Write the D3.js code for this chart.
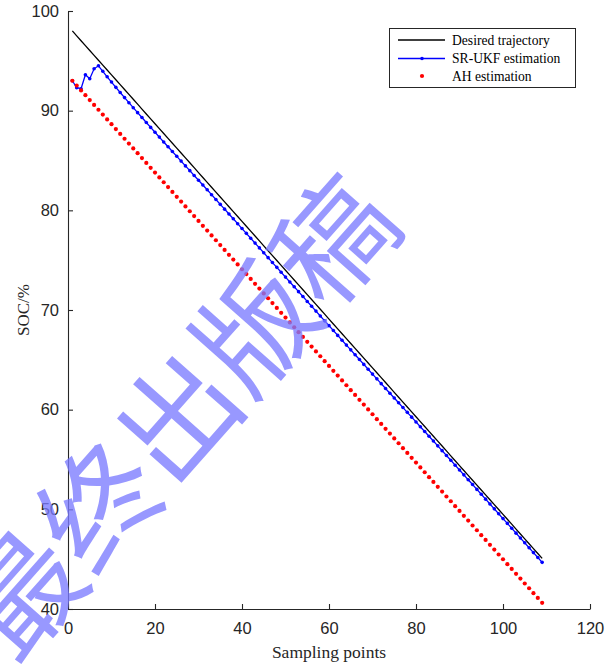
<!DOCTYPE html>
<html>
<head>
<meta charset="utf-8">
<script src="https://cdn.jsdelivr.net/npm/d3@7/dist/d3.min.js"></script>
<style>
  html, body { margin: 0; padding: 0; background: #fff; }
  svg { display: block; }
</style>
</head>
<body>
<svg id="chart" width="616" height="664"></svg>
<script>
// Sampling index 1..109
const samples = d3.range(1, 110);

// Reference SOC (%) along the discharge
const desiredSOC = [
  98.00, 97.51, 97.02, 96.53, 96.04, 95.55, 95.06, 94.57, 94.08, 93.59,
  93.10, 92.61, 92.12, 91.63, 91.14, 90.65, 90.16, 89.67, 89.18, 88.69,
  88.20, 87.71, 87.22, 86.73, 86.24, 85.75, 85.26, 84.77, 84.28, 83.79,
  83.30, 82.81, 82.32, 81.83, 81.34, 80.85, 80.36, 79.87, 79.38, 78.89,
  78.40, 77.91, 77.42, 76.93, 76.44, 75.95, 75.46, 74.97, 74.48, 73.99,
  73.50, 73.01, 72.52, 72.03, 71.54, 71.05, 70.56, 70.07, 69.58, 69.09,
  68.60, 68.11, 67.62, 67.13, 66.64, 66.15, 65.66, 65.17, 64.68, 64.19,
  63.70, 63.21, 62.72, 62.23, 61.74, 61.25, 60.76, 60.27, 59.78, 59.29,
  58.80, 58.31, 57.82, 57.33, 56.84, 56.35, 55.86, 55.37, 54.88, 54.39,
  53.90, 53.41, 52.92, 52.43, 51.94, 51.45, 50.96, 50.47, 49.98, 49.49,
  49.00, 48.51, 48.02, 47.53, 47.04, 46.55, 46.06, 45.57, 45.08
];

// SR-UKF estimate
const srukfSOC = [
  93.00, 92.30, 92.20, 93.60, 93.20, 94.20, 94.50, 93.95, 93.40, 92.87,
  92.34, 91.82, 91.31, 90.80, 90.30, 89.80, 89.31, 88.81, 88.32, 87.83,
  87.35, 86.86, 86.38, 85.90, 85.42, 84.94, 84.46, 83.98, 83.50, 83.02,
  82.54, 82.06, 81.57, 81.09, 80.60, 80.12, 79.63, 79.15, 78.66, 78.17,
  77.69, 77.20, 76.71, 76.23, 75.74, 75.25, 74.76, 74.28, 73.79, 73.30,
  72.81, 72.33, 71.84, 71.35, 70.86, 70.38, 69.89, 69.40, 68.91, 68.43,
  67.94, 67.45, 66.97, 66.48, 66.00, 65.51, 65.03, 64.54, 64.06, 63.57,
  63.09, 62.61, 62.13, 61.65, 61.17, 60.69, 60.21, 59.73, 59.25, 58.77,
  58.29, 57.81, 57.33, 56.85, 56.37, 55.89, 55.40, 54.92, 54.43, 53.95,
  53.46, 52.97, 52.49, 52.00, 51.51, 51.02, 50.54, 50.05, 49.56, 49.07,
  48.59, 48.10, 47.61, 47.12, 46.64, 46.15, 45.66, 45.17, 44.68
];

// Ampere-hour (AH) estimate
const ahSOC = [
  93.00, 92.52, 92.03, 91.55, 91.06, 90.58, 90.09, 89.61, 89.12, 88.64,
  88.15, 87.67, 87.18, 86.70, 86.21, 85.73, 85.24, 84.76, 84.27, 83.79,
  83.30, 82.82, 82.33, 81.85, 81.36, 80.88, 80.39, 79.91, 79.42, 78.94,
  78.45, 77.97, 77.48, 77.00, 76.51, 76.03, 75.54, 75.06, 74.57, 74.09,
  73.60, 73.12, 72.63, 72.15, 71.66, 71.18, 70.69, 70.21, 69.72, 69.24,
  68.75, 68.27, 67.78, 67.30, 66.81, 66.33, 65.84, 65.36, 64.87, 64.39,
  63.90, 63.42, 62.93, 62.45, 61.96, 61.48, 60.99, 60.51, 60.02, 59.54,
  59.05, 58.57, 58.08, 57.60, 57.11, 56.63, 56.14, 55.66, 55.17, 54.69,
  54.20, 53.72, 53.23, 52.75, 52.26, 51.78, 51.29, 50.81, 50.32, 49.84,
  49.35, 48.87, 48.38, 47.90, 47.41, 46.93, 46.44, 45.96, 45.47, 44.99,
  44.50, 44.02, 43.53, 43.05, 42.56, 42.08, 41.59, 41.11, 40.62
];

const xTicks = [0, 20, 40, 60, 80, 100, 120];
const yTicks = [40, 50, 60, 70, 80, 90, 100];
const seriesNames = ["Desired trajectory", "SR-UKF estimation", "AH estimation"];
const xTitle = "Sampling points";
const yTitle = "SOC/%";
const stampText = "最终出版稿";

const svg = d3.select("#chart");
const plotLeft = 68, plotRight = 590, plotTop = 11, plotBottom = 609;

const x = d3.scaleLinear().domain([0, 120]).range([plotLeft, plotRight]);
const y = d3.scaleLinear().domain([40, 100]).range([plotBottom, plotTop]);

const axisColor = "#262626";
const tickFont = "'Liberation Sans', Arial, Helvetica, sans-serif";
const serifFont = "'Liberation Serif', 'Times New Roman', serif";

// Axes (ticks pointing inward, no box)
const xAxis = svg.append("g")
  .attr("transform", `translate(0,${plotBottom})`)
  .call(d3.axisBottom(x).tickValues(xTicks).tickSizeInner(-5).tickSizeOuter(0).tickPadding(13));
const yAxis = svg.append("g")
  .attr("transform", `translate(${plotLeft},0)`)
  .call(d3.axisLeft(y).tickValues(yTicks).tickSizeInner(-5).tickSizeOuter(0).tickPadding(9));

[xAxis, yAxis].forEach(g => {
  g.select(".domain").attr("stroke", axisColor).attr("stroke-width", 1.1);
  g.selectAll(".tick line").attr("stroke", axisColor).attr("stroke-width", 1.1);
  g.selectAll(".tick text")
    .attr("fill", axisColor)
    .style("font-family", tickFont)
    .style("font-size", "16.5px");
});

// Axis titles
svg.append("text")
  .attr("x", (plotLeft + plotRight) / 2)
  .attr("y", 658)
  .attr("text-anchor", "middle")
  .style("font-family", serifFont)
  .style("font-size", "17.5px")
  .attr("fill", axisColor)
  .text(xTitle);

svg.append("text")
  .attr("transform", `translate(29,310) rotate(-90)`)
  .attr("text-anchor", "middle")
  .style("font-family", serifFont)
  .style("font-size", "17px")
  .attr("fill", axisColor)
  .text(yTitle);

const plot = svg.append("g");

const line = d3.line()
  .x((d, i) => x(samples[i]))
  .y(d => y(d));

// Desired trajectory
plot.append("path")
  .datum(desiredSOC)
  .attr("fill", "none")
  .attr("stroke", "#000")
  .attr("stroke-width", 1.3)
  .attr("d", line);

// SR-UKF line with point markers
plot.append("path")
  .datum(srukfSOC)
  .attr("fill", "none")
  .attr("stroke", "#0000ff")
  .attr("stroke-width", 1.3)
  .attr("d", line);
plot.append("g").selectAll("circle")
  .data(srukfSOC)
  .join("circle")
  .attr("cx", (d, i) => x(samples[i]))
  .attr("cy", d => y(d))
  .attr("r", 1.8)
  .attr("fill", "#0000ff");

// AH estimate drawn as dots only
plot.append("g").selectAll("circle")
  .data(ahSOC)
  .join("circle")
  .attr("cx", (d, i) => x(samples[i]))
  .attr("cy", d => y(d))
  .attr("r", 2.1)
  .attr("fill", "#ff0000");

// Legend
const lg = svg.append("g");
lg.append("rect")
  .attr("x", 389.5).attr("y", 28.5)
  .attr("width", 186).attr("height", 59)
  .attr("fill", "#fff")
  .attr("stroke", axisColor)
  .attr("stroke-width", 1);
const rowY = [40, 58.5, 76];
const colors = ["#000", "#0000ff", "#ff0000"];
seriesNames.forEach((name, i) => {
  if (i < 2) {
    lg.append("line")
      .attr("x1", 398).attr("x2", 445)
      .attr("y1", rowY[i]).attr("y2", rowY[i])
      .attr("stroke", colors[i]).attr("stroke-width", 1.3);
  }
  if (i > 0) {
    lg.append("circle")
      .attr("cx", 422).attr("cy", rowY[i])
      .attr("r", i === 1 ? 1.8 : 2.1)
      .attr("fill", colors[i]);
  }
  lg.append("text")
    .attr("x", 452).attr("y", rowY[i])
    .attr("dy", "0.35em")
    .style("font-family", serifFont)
    .style("font-size", "13.6px")
    .attr("fill", "#000")
    .text(name);
});

// Diagonal stamp laid over the figure
svg.append("text")
  .attr("transform", "translate(172,412) rotate(-48.5)")
  .attr("text-anchor", "middle")
  .attr("dominant-baseline", "central")
  .style("font-family", "'Noto Sans CJK SC', sans-serif")
  .style("font-weight", 400)
  .style("font-size", "118px")
  .attr("fill", "#7b7bff")
  .attr("fill-opacity", 0.78)
  .text(stampText);
</script>
</body>
</html>
